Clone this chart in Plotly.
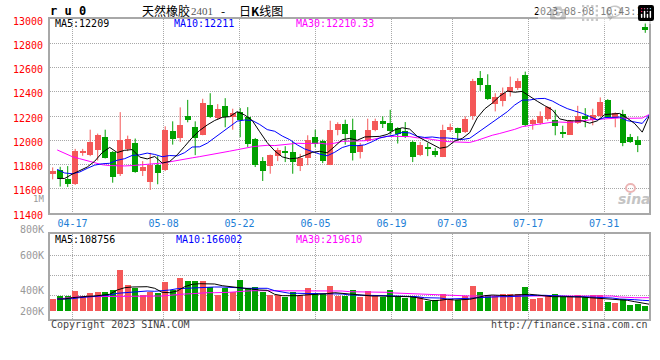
import plotly.graph_objects as go

# ---------------- data ----------------
tick_labels = ["04-17", "05-08", "05-22", "06-05", "06-19", "07-03", "07-17", "07-31"]
tick_idx = [3, 15, 25, 35, 45, 53, 63, 73]

open_ = [11718, 11754, 11683, 11637, 11903, 11882, 11918, 12027, 11904, 11718,
         11929, 11978, 11746, 11656, 11800, 11754, 12079, 12019, 12202, 12112,
         12046, 12290, 12183, 12282, 12189, 12232, 12194, 12014, 11828, 11787,
         11874, 11915, 11904, 11787, 11850, 12030, 11997, 11795, 12082, 12137,
         12087, 11902, 11997, 12085, 12161, 12142, 12101, 12074, 11986, 11877,
         11948, 11915, 11861, 12085, 12104, 12068, 12197, 12511, 12456, 12303,
         12320, 12402, 12435, 12538, 12137, 12142, 12178, 12167, 12063, 12046,
         12142, 12200, 12164, 12197, 12333, 12183, 12216, 12025, 12005, 12935]
high = [11776, 11781, 11787, 11929, 11929, 12087, 12055, 12087, 11910, 12232,
        12038, 12014, 11828, 11896, 11869, 12115, 12156, 12271, 12333, 12156,
        12342, 12388, 12298, 12347, 12260, 12265, 12273, 12019, 11861, 11882,
        11937, 11951, 11986, 11888, 12041, 12087, 12005, 12161, 12148, 12169,
        12178, 11978, 12178, 12178, 12197, 12251, 12107, 12150, 11997, 11986,
        11978, 11937, 12128, 12137, 12104, 12197, 12506, 12571, 12544, 12388,
        12435, 12525, 12511, 12566, 12178, 12238, 12279, 12251, 12120, 12167,
        12284, 12265, 12260, 12353, 12339, 12230, 12251, 12052, 12033, 12968]
low = [11677, 11618, 11615, 11631, 11872, 11869, 11833, 11850, 11650, 11705,
       11910, 11732, 11705, 11590, 11637, 11746, 11964, 11986, 12148, 11877,
       12041, 12183, 12169, 12107, 12087, 12025, 11945, 11779, 11664, 11724,
       11828, 11820, 11724, 11746, 11795, 11943, 11811, 11795, 12041, 11964,
       11833, 11850, 11986, 12074, 12101, 12046, 11973, 12019, 11820, 11869,
       11869, 11861, 11861, 12068, 11997, 12060, 12169, 12407, 12333, 12238,
       12279, 12361, 12415, 12115, 12087, 12128, 12161, 12041, 12019, 12046,
       12134, 12107, 12123, 12191, 12189, 12107, 11951, 11978, 11902, 12886]
close = [11746, 11691, 11637, 11910, 11910, 11986, 12046, 11855, 11699, 12000,
         12014, 11738, 11779, 11800, 11727, 12082, 12011, 12128, 12164, 12019,
         12309, 12194, 12260, 12194, 12221, 12169, 11973, 11792, 11746, 11882,
         11923, 11893, 11822, 11855, 12005, 11970, 11828, 12087, 12137, 12055,
         11893, 11964, 12087, 12161, 12134, 12079, 12055, 12033, 11861, 11959,
         11934, 11882, 12087, 12107, 12063, 12178, 12489, 12456, 12342, 12353,
         12391, 12440, 12489, 12123, 12169, 12202, 12271, 12115, 12052, 12161,
         12202, 12175, 12210, 12312, 12189, 12221, 11978, 11986, 11959, 12908]

ma5 = [11685, 11685, 11720, 11748, 11779, 11827, 11898, 11941, 11899, 11917,
       11923, 11861, 11846, 11866, 11812, 11825, 11880, 11950, 12022, 12081,
       12126, 12163, 12189, 12195, 12236, 12208, 12163, 12070, 11980, 11912,
       11863, 11847, 11853, 11875, 11900, 11909, 11896, 11949, 12005, 12015,
       12000, 12027, 12027, 12032, 12048, 12085, 12103, 12092, 12032, 11997,
       11968, 11934, 11945, 11994, 12015, 12063, 12185, 12259, 12306, 12364,
       12406, 12396, 12403, 12359, 12322, 12285, 12251, 12176, 12162, 12160,
       12160, 12141, 12160, 12212, 12218, 12221, 12182, 12137, 12067, 12210]
ma10 = [11760, 11730, 11724, 11738, 11768, 11795, 11806, 11810, 11835, 11848,
        11875, 11880, 11894, 11883, 11864, 11874, 11871, 11898, 11944, 11946,
        11976, 12021, 12069, 12109, 12158, 12167, 12163, 12130, 12088, 12074,
        12035, 12005, 11962, 11928, 11906, 11886, 11872, 11901, 11940, 11958,
        11955, 11962, 11988, 12019, 12032, 12043, 12065, 12060, 12032, 12023,
        12027, 12019, 12019, 12013, 12006, 12016, 12059, 12102, 12150, 12189,
        12235, 12291, 12331, 12332, 12343, 12345, 12324, 12290, 12261, 12241,
        12222, 12196, 12168, 12187, 12189, 12191, 12162, 12149, 12139, 12214]
ma30 = [11920, 11890, 11865, 11848, 11832, 11812, 11798, 11791, 11788, 11788,
        11791, 11795, 11799, 11805, 11812, 11822, 11835, 11845, 11855, 11865,
        11875, 11886, 11898, 11910, 11922, 11935, 11946, 11953, 11958, 11956,
        11962, 11969, 11975, 11973, 11976, 11976, 11968, 11976, 11991, 11993,
        11989, 11996, 12006, 12018, 12032, 12032, 12033, 12030, 12020, 12018,
        12006, 11995, 11989, 11986, 11981, 11982, 11999, 12021, 12041, 12056,
        12072, 12090, 12112, 12121, 12127, 12135, 12149, 12150, 12147, 12151,
        12161, 12168, 12172, 12177, 12179, 12184, 12181, 12180, 12183, 12215]

volume_k = [167, 190, 190, 247, 180, 227, 237, 237, 257, 457,
            307, 277, 207, 237, 224, 337, 257, 377, 347, 347,
            347, 281, 207, 274, 230, 357, 274, 281, 237, 207,
            207, 187, 234, 207, 277, 227, 217, 297, 190, 190,
            257, 180, 240, 207, 180, 257, 180, 170, 197, 180,
            147, 157, 217, 167, 157, 197, 297, 237, 207, 197,
            217, 217, 217, 287, 167, 177, 207, 217, 180, 197,
            207, 180, 207, 207, 137, 127, 167, 107, 117, 90]
vma5_k = [167, 167, 180, 190, 194, 197, 204, 214, 257, 280,
          287, 290, 290, 274, 234, 230, 247, 290, 314, 320,
          320, 317, 300, 290, 280, 274, 264, 257, 254, 214,
          200, 197, 200, 207, 210, 217, 220, 230, 224, 214,
          207, 204, 197, 197, 197, 197, 197, 190, 180, 167,
          150, 154, 164, 157, 157, 164, 180, 200, 207, 204,
          200, 207, 214, 214, 207, 197, 190, 190, 190, 190,
          187, 180, 174, 174, 164, 157, 154, 140, 127, 114]
vma10_k = [167, 167, 170, 180, 187, 197, 197, 207, 224, 230,
           240, 247, 247, 244, 247, 257, 270, 274, 280, 284,
           287, 287, 287, 287, 280, 274, 274, 274, 274, 250,
           234, 224, 224, 224, 224, 224, 224, 224, 217, 207,
           207, 207, 207, 207, 200, 197, 197, 194, 190, 180,
           180, 177, 167, 167, 167, 174, 180, 184, 190, 190,
           190, 194, 200, 204, 204, 204, 200, 194, 190, 190,
           190, 187, 180, 180, 177, 167, 167, 160, 154, 150]
vma30_k = [167, 174, 184, 190, 190, 190, 190, 194, 197, 197,
           197, 197, 197, 197, 197, 204, 214, 217, 220, 227,
           230, 230, 230, 234, 240, 247, 250, 250, 250, 250,
           250, 250, 250, 250, 250, 250, 250, 250, 247, 240,
           240, 240, 240, 240, 234, 227, 224, 220, 217, 210,
           207, 207, 204, 197, 197, 197, 197, 197, 197, 197,
           197, 197, 197, 197, 197, 197, 197, 197, 197, 197,
           197, 197, 197, 197, 197, 187, 180, 180, 180, 180]

price_ticks = list(range(11400, 13001, 200))
vol_grid = [200000, 400000, 600000]

# ---------------- styles ----------------
W, H = 660, 360
RED = "#F45858"
GREEN = "#00A000"
BLUE_TXT = "#1C7ED6"
GRID = "#A8A8A8"
FRAME = "#A8A8A8"
MONO = "DejaVu Sans Mono"
CJK = "Noto Sans CJK SC"
VOL_BASE = 47000
MA_SHIFT = 0.6


def px(x):
    return x / W


def py(y):
    return 1 - y / H


n = len(close)
idx = list(range(n))
up = [i for i in idx if close[i] >= open_[i]]
down = [i for i in idx if close[i] < open_[i]]
tick_x = [i - 0.4 + 0.0125 * i for i in tick_idx]

fig = go.Figure()

for color, sel in ((RED, up), (GREEN, down)):
    wx, wy = [], []
    for i in sel:
        wx += [i, i, None]
        wy += [low[i], high[i], None]
    fig.add_trace(go.Scatter(x=wx, y=wy, mode="lines", line=dict(color=color, width=1),
                             hoverinfo="skip", xaxis="x", yaxis="y"))
    fig.add_trace(go.Bar(x=sel,
                         y=[max(abs(close[i] - open_[i]), 9) for i in sel],
                         base=[min(open_[i], close[i]) for i in sel],
                         width=0.8, marker=dict(color=color, line=dict(width=0)),
                         hoverinfo="skip", xaxis="x", yaxis="y"))
    fig.add_trace(go.Bar(x=sel, y=[volume_k[i] * 1000 - VOL_BASE for i in sel], base=VOL_BASE,
                         width=0.8, marker=dict(color=color, line=dict(width=0)),
                         hoverinfo="skip", xaxis="x2", yaxis="y2"))

ma_x = [i + MA_SHIFT for i in idx]
for vals, color in ((ma30, "#FF00FF"), (ma10, "#0000FF"), (ma5, "#000000")):
    fig.add_trace(go.Scatter(x=ma_x, y=vals, mode="lines", line=dict(color=color, width=1),
                             hoverinfo="skip", xaxis="x", yaxis="y"))
for vals, color in ((vma30_k, "#FF00FF"), (vma10_k, "#0000FF"), (vma5_k, "#000000")):
    fig.add_trace(go.Scatter(x=ma_x, y=[v * 1000 for v in vals], mode="lines",
                             line=dict(color=color, width=1),
                             hoverinfo="skip", xaxis="x2", yaxis="y2"))

xdom = [px(50), px(649)]
xrange_ = [-0.36, 79.5]
common_x = dict(domain=xdom, range=xrange_, tickmode="array", tickvals=tick_x,
                ticks="", showgrid=True, gridcolor=GRID, griddash="1px,1px", gridwidth=1,
                showline=True, mirror=True, linecolor=FRAME, linewidth=2, zeroline=False,
                fixedrange=True, automargin=False)

annotations = []


def ann(text, x, y, color="#000000", size=10, xanchor="left", family=MONO, **kw):
    annotations.append(dict(text=text, x=px(x), y=py(y), xref="paper", yref="paper",
                            xanchor=xanchor, yanchor="middle", showarrow=False,
                            font=dict(family=family, size=size, color=color), **kw))


ann("<b>r u 0</b>", 48, 11, size=12)
ann("天然橡胶", 140, 10, size=12, family=CJK)
ann("2401", 189, 11, color="#555555", size=11, family="Liberation Serif")
ann("-", 219, 10, size=12, family=CJK)
ann("日<b>K</b>线图", 237, 10, size=12, family=CJK)
ann("2023-08-08 10:43:19", 650, 12, xanchor="right", size=10)
ann("MA5:12209", 53, 24)
ann("MA10:12211", 172, 24, color="#0000FF")
ann("MA30:12210.33", 294, 24, color="#FF00FF")
ann("MA5:108756", 53, 239)
ann("MA10:166002", 174, 239, color="#0000FF")
ann("MA30:219610", 294, 239, color="#FF00FF")
ann("1M", 46, 199, color="#999999", xanchor="right", size=9)
ann("800K", 46, 230, color="#999999", xanchor="right")
ann("600K", 46, 255, color="#999999", xanchor="right")
ann("400K", 46, 290, color="#999999", xanchor="right")
ann("200K", 46, 311, color="#999999", xanchor="right")
ann("Copyright 2023 SINA.COM", 49, 324, color="#444444")
ann("http://finance.sina.com.cn", 650, 324, color="#444444", xanchor="right")
ann("<b><i>sina</i></b>", 634, 199, color="#C4C4C4", size=14, xanchor="center",
    family="DejaVu Sans")

shapes = [dict(type="circle", xref="paper", yref="paper",
               x0=px(626), x1=px(635), y0=py(192), y1=py(184),
               line=dict(color="#EBB5B5", width=2), fillcolor="rgba(0,0,0,0)")]

fig.update_layout(
    width=W, height=H, margin=dict(l=0, r=0, t=0, b=0, pad=0),
    paper_bgcolor="white", plot_bgcolor="white",
    showlegend=False, barmode="overlay", bargap=0,
    xaxis=dict(common_x, anchor="y", showticklabels=True, ticktext=tick_labels,
               tickfont=dict(family=MONO, size=10, color=BLUE_TXT)),
    yaxis=dict(domain=[py(213), py(19)], range=[11400, 13000], tickmode="array",
               tickvals=price_ticks, tickformat="d", ticks="", anchor="x",
               tickfont=dict(family=MONO, size=10, color="#FF0000"),
               showgrid=True, gridcolor=GRID, griddash="1px,1px", gridwidth=1,
               showline=True, mirror=True, linecolor=FRAME, linewidth=2,
               zeroline=False, fixedrange=True, ticklabelstandoff=3, ticklabelshift=2,
               automargin=False),
    xaxis2=dict(common_x, anchor="y2", showticklabels=False),
    yaxis2=dict(domain=[py(319), py(234.3)], range=[-33000, 814000], tickmode="array",
                tickvals=vol_grid, showticklabels=False, ticks="", anchor="x2",
                showgrid=True, gridcolor=GRID, griddash="1px,1px", gridwidth=1,
                showline=True, mirror=True, linecolor=FRAME, linewidth=2,
                zeroline=False, fixedrange=True, automargin=False),
    annotations=annotations,
    shapes=shapes,
    hovermode=False,
)

fig.write_html("out.html",
               post_script="document.body.style.margin='0px';document.body.style.padding='0px';")
